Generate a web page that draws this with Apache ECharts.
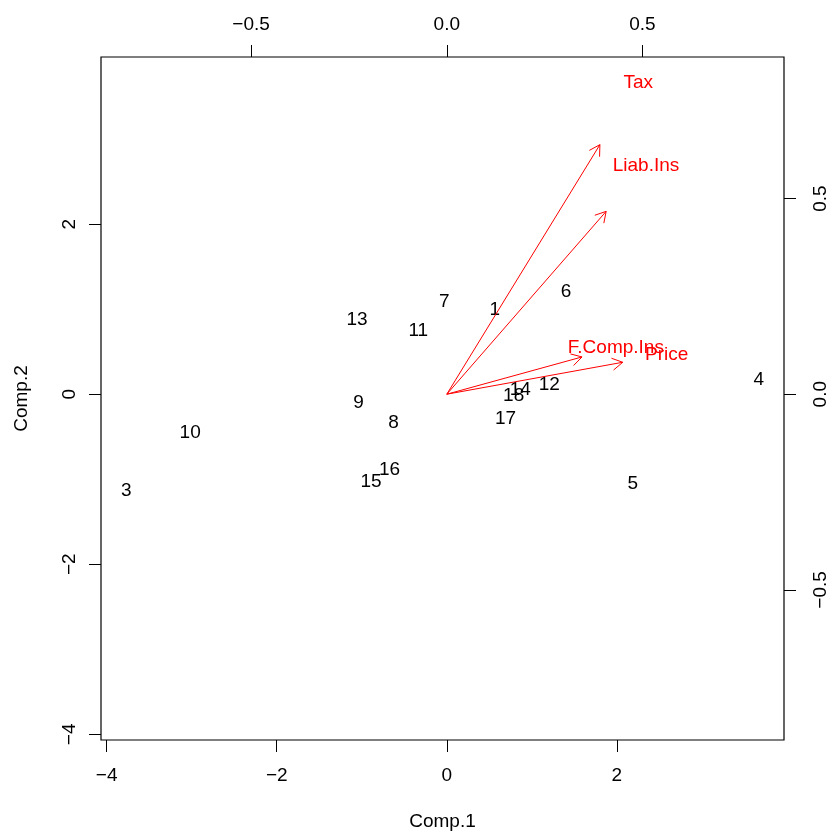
<!DOCTYPE html>
<html>
<head>
<meta charset="utf-8">
<script src="https://cdn.jsdelivr.net/npm/echarts@6/dist/echarts.min.js"></script>
<style>
html,body{margin:0;padding:0;background:#fff;}
#chart{width:832px;height:834px;}
</style>
</head>
<body>
<div id="chart"></div>
<script>
// Observation scores (principal component scores)
const obsLabels = ['1','3','4','5','6','7','8','9','10','11','12','13','14','15','16','17','18'];
const comp1 = [0.565,-3.769,3.668,2.186,1.402,-0.029,-0.626,-1.038,-3.018,-0.335,1.206,-1.056,0.865,-0.892,-0.673,0.691,0.786];
const comp2 = [0.988,-1.138,0.165,-1.059,1.204,1.086,-0.338,-0.102,-0.455,0.745,0.106,0.871,0.055,-1.024,-0.886,-0.286,-0.024];

// Variable loadings
const varNames = ['Tax','Liab.Ins','F.Comp.Ins','Price'];
const load1 = [0.489,0.509,0.432,0.562];
const load2 = [0.797,0.584,0.119,0.102];

// Tick labels
const scoreTicks = [-4,-2,0,2];
const loadTicks = [-0.5,0,0.5];

// R biplot-style limits
const rx1 = [-Math.abs(Math.min(...comp1)), Math.abs(Math.max(...comp1))];
const rx2 = [-Math.abs(Math.min(...comp2)), Math.abs(Math.max(...comp2))];
const lo = Math.min(rx1[0], rx2[0]);
const hi = Math.max(rx1[1], rx2[1]);
const ry1 = [-Math.abs(Math.min(...load1)), Math.abs(Math.max(...load1))];
const ry2 = [-Math.abs(Math.min(...load2)), Math.abs(Math.max(...load2))];
const ratio = Math.max(ry1[0]/lo, ry1[1]/hi, ry2[0]/lo, ry2[1]/hi);
const ext = (hi - lo) * 0.04;
const pMin = lo - ext, pMax = hi + ext;
const sMin = pMin * ratio, sMax = pMax * ratio;

const FONT = '"Liberation Sans", Arial, Helvetica, sans-serif';
const FS = 19;
const minus = v => String(v).replace('-', '\u2212');

function axisCommon(ticks, fmt, margin, rotate) {
  return {
    type: 'value',
    axisLine: {show: false, onZero: false},
    splitLine: {show: false},
    axisTick: {show: true, length: 12, inside: false, customValues: ticks, lineStyle: {color: '#000', width: 1}},
    axisLabel: {show: true, customValues: ticks, formatter: fmt, margin: margin, rotate: rotate,
      color: '#000', fontSize: FS, fontFamily: FONT},
    nameTextStyle: {color: '#000', fontSize: FS, fontFamily: FONT}
  };
}

const obsData = comp1.map((x, i) => [x, comp2[i], obsLabels[i]]);
const varData = load1.map((x, i) => [x, load2[i], varNames[i]]);

const chart = echarts.init(document.getElementById('chart'), null, {renderer: 'canvas'});
chart.setOption({
  animation: false,
  backgroundColor: '#fff',
  grid: {left: 101, right: 48, top: 57, bottom: 94, show: true, borderColor: '#000', borderWidth: 1.2,
    backgroundColor: 'transparent', containLabel: false, outerBoundsMode: 'none'},
  xAxis: [
    Object.assign(axisCommon(scoreTicks, v => minus(v), 26, 0), {
      position: 'bottom', min: pMin, max: pMax,
      name: 'Comp.1', nameLocation: 'middle', nameGap: 72
    }),
    Object.assign(axisCommon(loadTicks, v => minus(Number(v).toFixed(1)), 23, 0), {
      position: 'top', min: sMin, max: sMax
    })
  ],
  yAxis: [
    Object.assign(axisCommon(scoreTicks, v => minus(v), 22, 90), {
      position: 'left', min: pMin, max: pMax,
      name: 'Comp.2', nameLocation: 'middle', nameGap: 70, nameRotate: 90
    }),
    Object.assign(axisCommon(loadTicks, v => minus(Number(v).toFixed(1)), 27, 90), {
      position: 'right', min: sMin, max: sMax
    })
  ],
  series: [
    {
      type: 'custom',
      xAxisIndex: 0, yAxisIndex: 0,
      silent: true,
      clip: false,
      data: obsData,
      renderItem: function (params, api) {
        const p = api.coord([api.value(0), api.value(1)]);
        return {
          type: 'text',
          x: p[0], y: p[1],
          style: {text: obsLabels[params.dataIndex], fill: '#000', font: FS + 'px ' + FONT,
            align: 'center', verticalAlign: 'middle', textAlign: 'center', textVerticalAlign: 'middle'}
        };
      }
    },
    {
      type: 'custom',
      xAxisIndex: 1, yAxisIndex: 1,
      silent: true,
      clip: false,
      data: varData,
      renderItem: function (params, api) {
        const x = api.value(0), y = api.value(1);
        const o = api.coord([0, 0]);
        const t = api.coord([x * 0.8, y * 0.8]);
        const l = api.coord([x, y]);
        const ang = Math.atan2(t[1] - o[1], t[0] - o[0]);
        const L = 12, a = Math.PI / 6;
        const b1 = [t[0] - L * Math.cos(ang - a), t[1] - L * Math.sin(ang - a)];
        const b2 = [t[0] - L * Math.cos(ang + a), t[1] - L * Math.sin(ang + a)];
        const red = '#FF0000';
        return {
          type: 'group',
          children: [
            {type: 'line', shape: {x1: o[0], y1: o[1], x2: t[0], y2: t[1]}, style: {stroke: red, lineWidth: 1}},
            {type: 'polyline', shape: {points: [b1, t, b2]}, style: {stroke: red, lineWidth: 1, fill: null}},
            {type: 'text', x: l[0], y: l[1],
              style: {text: varNames[params.dataIndex], fill: red, font: FS + 'px ' + FONT,
                align: 'center', verticalAlign: 'middle', textAlign: 'center', textVerticalAlign: 'middle'}}
          ]
        };
      }
    }
  ]
});
</script>
</body>
</html>
